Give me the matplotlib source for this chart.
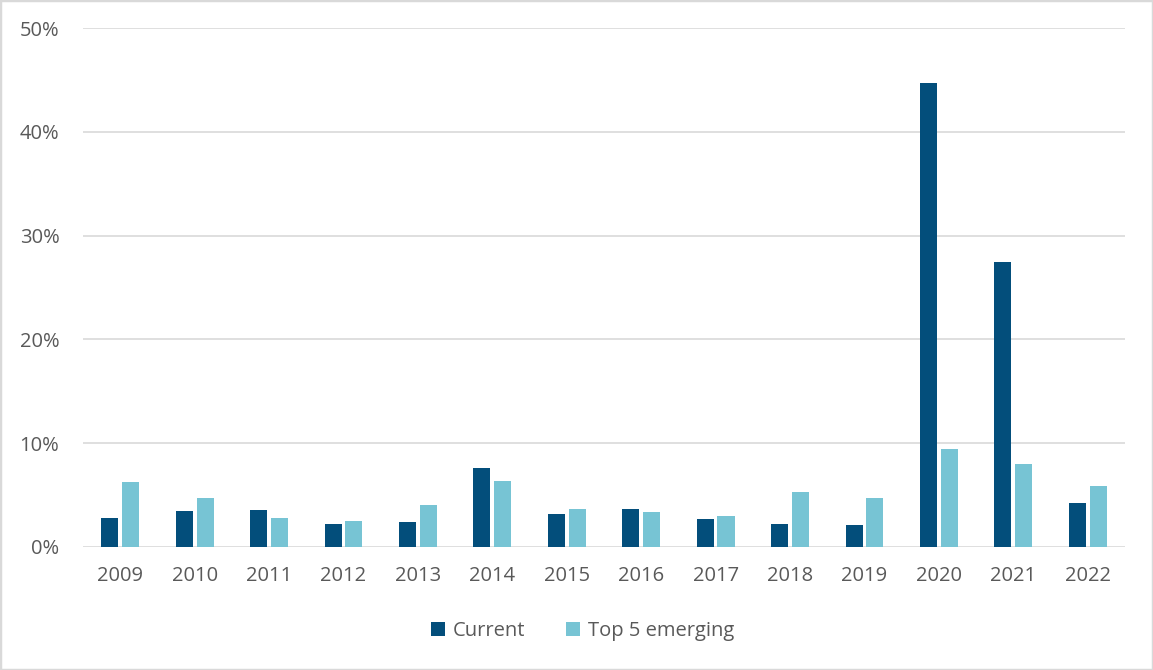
import matplotlib.pyplot as plt
import matplotlib.patches as patches
import numpy as np

plt.rcParams['font.family'] = ['Open Sans', 'DejaVu Sans']

years = ["2009", "2010", "2011", "2012", "2013", "2014", "2015",
         "2016", "2017", "2018", "2019", "2020", "2021", "2022"]
current = [2.8, 3.5, 3.55, 2.2, 2.4, 7.6, 3.2, 3.65, 2.7, 2.2, 2.15, 44.7, 27.45, 4.2]
emerging = [6.25, 4.7, 2.8, 2.5, 4.05, 6.35, 3.65, 3.35, 3.0, 5.3, 4.7, 9.45, 8.0, 5.9]

DARK = '#034e7b'
LIGHT = '#77c4d4'
TEXT = '#595959'

fig = plt.figure(figsize=(11.53, 6.70), dpi=100)
ax = fig.add_axes([0.072, 0.1836, 0.9037, 0.7746])

x = np.arange(len(years))
w = 0.23
ax.bar(x - 0.14, current, w, color=DARK, label="Current", zorder=3)
ax.bar(x + 0.14, emerging, w, color=LIGHT, label="Top 5 emerging", zorder=3)

ax.set_xlim(-0.5, len(years) - 0.5)
ax.set_ylim(0, 50)
ax.set_yticks(range(0, 51, 10))
ax.set_yticklabels([f"{v}%" for v in range(0, 51, 10)])
ax.set_xticks(x)
ax.set_xticklabels(years)
ax.grid(axis='y', color='#d9d9d9', linewidth=1.2, zorder=0)
ax.tick_params(length=0, labelsize=14.5, colors=TEXT, pad=14)
ax.tick_params(axis='y', pad=17)
for s in ax.spines.values():
    s.set_visible(False)

leg = fig.legend(loc='center', bbox_to_anchor=(0.505, 0.058), ncol=2, frameon=False,
                 fontsize=14.5, handlelength=0.7, handleheight=0.7, columnspacing=2.0,
                 handletextpad=0.4)
for t in leg.get_texts():
    t.set_color(TEXT)

fig.patches.append(patches.Rectangle((0, 0), 1, 1, transform=fig.transFigure,
                                     fill=False, edgecolor='#d9d9d9', linewidth=2.5))

fig.savefig("out.png", dpi=100)
